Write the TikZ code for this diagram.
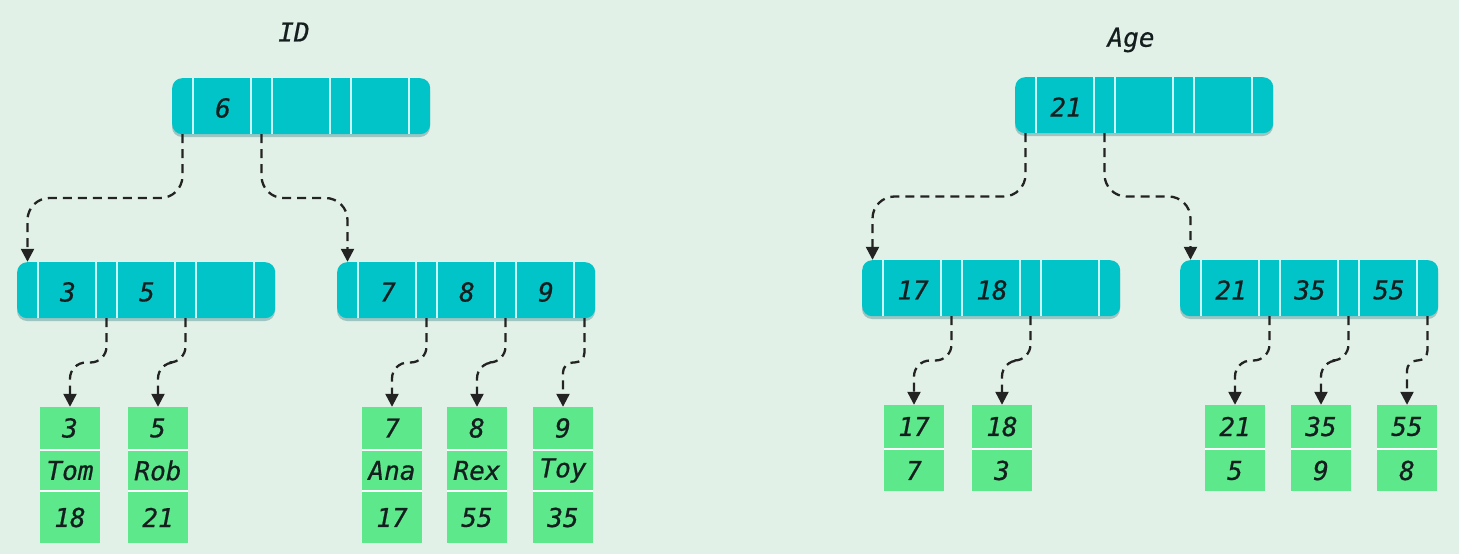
\documentclass[tikz,border=0pt]{standalone}
\usepackage{fontspec}
\newfontfamily\labfont{DejaVu Sans Mono}[ItalicFeatures={FakeBold=0.6}]
\usetikzlibrary{arrows.meta,calc}
\definecolor{bgc}{RGB}{225,241,231}
\definecolor{tealc}{RGB}{0,196,200}
\definecolor{tealshadow}{RGB}{160,196,192}
\definecolor{divc}{RGB}{200,255,255}
\definecolor{leafc}{RGB}{94,232,140}
\definecolor{txtc}{RGB}{20,30,30}
\definecolor{connc}{RGB}{35,35,35}
\tikzset{
  lab/.style={font=\labfont\itshape\fontsize{26}{26}\selectfont, text=txtc, inner sep=0pt},
  divider/.style={draw=divc, line width=1.8pt},
  cell/.style={inner sep=0pt, minimum height=56pt},
  leafcell/.style={lab, fill=leafc, minimum width=60pt, inner sep=0pt},
  conn/.style={draw=connc, line width=2.3pt, dash pattern=on 9pt off 6pt,
    -{Triangle[length=13pt,width=13pt]}, rounded corners=#1,
    to path={-- ($(\tikztostart)!.5!(\tikztostart|-\tikztotarget)$) -| (\tikztotarget) \tikztonodes}},
  conn/.default=22pt,
  pics/btree/.style n args={3}{code={
    \fill[tealshadow, rounded corners=10pt] (0,3) rectangle (258,59);
    \node[cell, fill=tealc, rounded corners=10pt, minimum width=258pt, anchor=north west] (-box) at (0,0) {};
    \foreach \xx in {21,79,100,158,179,237} \draw[divider] (\xx,0) -- (\xx,56);
    \node[cell, minimum width=21pt] (-p0) at (10.5,28) {};
    \node[cell, minimum width=21pt] (-p1) at (89.5,28) {};
    \node[cell, minimum width=21pt] (-p2) at (168.5,28) {};
    \node[cell, minimum width=21pt] (-p3) at (247.5,28) {};
    \node[lab] (-k1) at (51,30) {#1};
    \node[lab] (-k2) at (130,30) {#2};
    \node[lab] (-k3) at (209,30) {#3};
  }},
  pics/leafthree/.style n args={3}{code={
    \fill[white] (0,0) rectangle (60,136);
    \node[leafcell, minimum height=42pt] (-r1) at (30,21) {#1};
    \node[leafcell, minimum height=39pt] (-r2) at (30,63.5) {#2};
    \node[leafcell, minimum height=51pt] (-r3) at (30,110.5) {#3};
  }},
  pics/leaftwo/.style n args={2}{code={
    \fill[white] (0,0) rectangle (60,86);
    \node[leafcell, minimum height=43pt] (-r1) at (30,21.5) {#1};
    \node[leafcell, minimum height=41pt] (-r2) at (30,65.5) {#2};
  }}
}
\begin{document}
\begin{tikzpicture}[x=1pt,y=-1pt]
\fill[bgc] (0,0) rectangle (1459,554);
\useasboundingbox (0,0) rectangle (1459,554);

% titles
\node[lab] (idtitle) at (294,32) {ID};
\node[lab] (agetitle) at (1131,40) {Age};

% ID tree
\pic (idroot) at (172,78) {btree={6}{}{}};
\pic (idl) at (17,262) {btree={3}{5}{}};
\pic (idr) at (337,262) {btree={7}{8}{9}};
\pic (ida) at (40,407) {leafthree={3}{Tom}{18}};
\pic (idb) at (128,407) {leafthree={5}{Rob}{21}};
\pic (idc) at (362,407) {leafthree={7}{Ana}{17}};
\pic (idd) at (447,407) {leafthree={8}{Rex}{55}};
\pic (ide) at (533,407) {leafthree={9}{Toy}{35}};

\draw[conn] (idroot-p0.south) to (idl-p0.north);
\draw[conn] (idroot-p1.south) to (idr-p0.north);
\draw[conn=16pt] (idl-p1.south) to (ida-r1.north);
\draw[conn=16pt] (idl-p2.south) to (idb-r1.north);
\draw[conn=16pt] (idr-p1.south) to (idc-r1.north);
\draw[conn=16pt] (idr-p2.south) to (idd-r1.north);
\draw[conn=10pt] (idr-p3.south) to (ide-r1.north);

% Age tree
\pic (ageroot) at (1015,77) {btree={21}{}{}};
\pic (agel) at (862,260) {btree={17}{18}{}};
\pic (ager) at (1180,260) {btree={21}{35}{55}};
\pic (aga) at (884,405) {leaftwo={17}{7}};
\pic (agb) at (972,405) {leaftwo={18}{3}};
\pic (agc) at (1205,405) {leaftwo={21}{5}};
\pic (agd) at (1291,405) {leaftwo={35}{9}};
\pic (age) at (1377,405) {leaftwo={55}{8}};

\draw[conn] (ageroot-p0.south) to (agel-p0.north);
\draw[conn] (ageroot-p1.south) to (ager-p0.north);
\draw[conn=16pt] (agel-p1.south) to (aga-r1.north);
\draw[conn=16pt] (agel-p2.south) to (agb-r1.north);
\draw[conn=16pt] (ager-p1.south) to (agc-r1.north);
\draw[conn=16pt] (ager-p2.south) to (agd-r1.north);
\draw[conn=10pt] (ager-p3.south) to (age-r1.north);
\end{tikzpicture}
\end{document}
